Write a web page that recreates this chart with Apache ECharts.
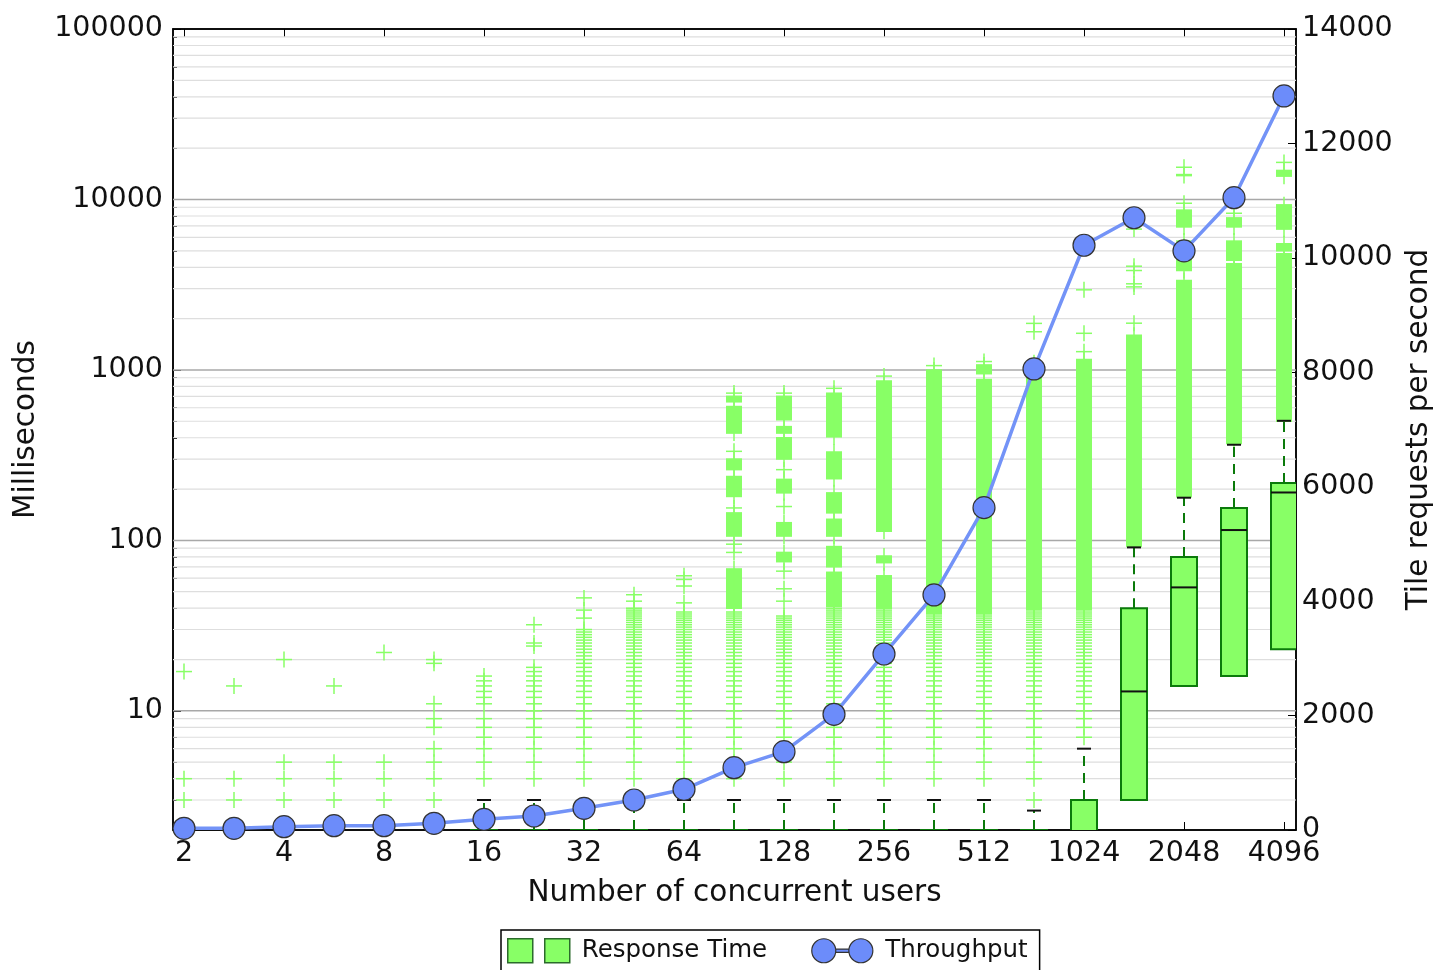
<!DOCTYPE html>
<html lang="en">
<head>
<meta charset="UTF-8">
<title>Response time and throughput</title>
<style>
    html, body { margin: 0; padding: 0; background: #fff; }
    #chart { width: 1433px; height: 970px; }
</style>
</head>
<body>
<div id="chart"></div>
<script src="https://cdn.jsdelivr.net/npm/echarts@6/dist/echarts.min.js"></script>
<script>
// 23 load levels, each step is x sqrt(2); only the powers of two get a label
var users = ['2', '2.8', '4', '5.7', '8', '11', '16', '23', '32', '45', '64', '91',
    '128', '181', '256', '362', '512', '724', '1024', '1448', '2048', '2896', '4096'];
var xTickLabels = ['2', '4', '8', '16', '32', '64', '128', '256', '512', '1024', '2048', '4096'];
var yTickLabels = [10, 100, 1000, 10000, 100000];

// tile requests per second (right axis)
var throughput = [30, 30, 58, 75, 75, 117, 187, 245, 379, 524, 711, 1089, 1369, 2022,
    3076, 4108, 5634, 8058, 10220, 10701, 10122, 11051, 12830];

// response time boxes, milliseconds
var whiskerLow = [1, 1, 1, 1, 1, 1, 1, 1, 1, 1, 1, 1, 1, 1, 1, 1, 1, 1, 1, 3, 14, 16, 23];
var q1 = [1, 1, 1, 1, 1, 1, 1, 1, 1, 1, 1, 1, 1, 1, 1, 1, 1, 1, 1, 3, 14, 16, 23];
var median = [1, 1, 1, 1, 1, 1, 1.5, 1.5, 1.5, 1.5, 1.5, 1.5, 1.5, 1.5, 1.5, 1.5, 1.5, 1.5, 1.5, 13, 53, 115, 191];
var q3 = [1.2, 1.2, 1.2, 1.2, 1.2, 1.2, 2, 2, 2, 2, 2, 2, 2, 2, 2, 2, 2, 2, 3, 40, 80, 155, 217];
var whiskerHigh = [2.2, 2.2, 2.2, 2.2, 2.2, 2.2, 3, 3, 3, 3, 3, 3, 3, 3, 3, 3, 3, 2.6, 6, 91, 178, 364, 503];

// single outliers per level (response times are whole milliseconds)
var outliers = [
    [3, 4, 17],
    [3, 4, 14],
    [3, 4, 5, 20],
    [3, 4, 5, 14],
    [3, 4, 5, 22],
    [3, 4, 5, 6, 8, 9, 11, 19, 20],
    [4, 5, 6, 7, 8, 9, 11, 12, 13, 14, 15, 16],
    [4, 5, 6, 7, 8, 9, 10, 11, 12, 13, 14, 15, 16, 17, 18, 24, 25, 32],
    [4, 5, 6, 7, 8, 9, 10, 11, 12, 13, 14, 15, 16, 17, 18, 19, 20, 21, 22, 23, 24, 25, 26, 27, 28, 29, 30, 35, 39, 46],
    [4, 5, 6, 7, 8, 9, 10, 11, 12, 13, 14, 15, 16, 17, 18, 19, 20, 21, 22, 23, 24, 25, 26, 27, 28, 29, 30, 31, 32, 33, 34, 35, 36, 37, 38, 39, 40, 44, 48],
    [4, 5, 6, 7, 8, 9, 10, 11, 12, 13, 14, 15, 16, 17, 18, 19, 20, 21, 22, 23, 24, 25, 26, 27, 28, 29, 30, 31, 32, 33, 34, 35, 36, 37, 38, 43, 54, 59, 62],
    [4, 5, 6, 7, 8, 9, 10, 11, 12, 13, 14, 15, 16, 17, 18, 19, 20, 21, 22, 23, 24, 25, 26, 27, 28, 29, 30, 31, 32, 33, 34, 35, 36, 37, 38, 85, 95, 155, 333, 731],
    [4, 5, 6, 7, 8, 9, 10, 11, 12, 13, 14, 15, 16, 17, 18, 19, 20, 21, 22, 23, 24, 25, 26, 27, 28, 29, 30, 31, 32, 33, 34, 35, 36, 44, 52, 66, 158, 260, 731],
    [4, 5, 6, 7, 8, 9, 10, 11, 12, 13, 14, 15, 16, 17, 18, 19, 20, 21, 22, 23, 24, 25, 26, 27, 28, 29, 30, 31, 32, 33, 34, 35, 36, 37, 38, 39, 40, 780],
    [4, 5, 6, 7, 8, 9, 10, 11, 12, 13, 14, 15, 16, 17, 18, 19, 20, 21, 22, 23, 24, 25, 26, 27, 28, 29, 30, 31, 32, 33, 34, 35, 36, 37, 38, 39, 920],
    [4, 5, 6, 7, 8, 9, 10, 11, 12, 13, 14, 15, 16, 17, 18, 19, 20, 21, 22, 23, 24, 25, 26, 27, 28, 29, 30, 31, 32, 33, 34, 35, 36, 1060],
    [4, 5, 6, 7, 8, 9, 10, 11, 12, 13, 14, 15, 16, 17, 18, 19, 20, 21, 22, 23, 24, 25, 26, 27, 28, 29, 30, 31, 32, 33, 34, 35, 36, 1120],
    [3, 4, 5, 6, 7, 8, 9, 10, 11, 12, 13, 14, 15, 16, 17, 18, 19, 20, 21, 22, 23, 24, 25, 26, 27, 28, 29, 30, 31, 32, 33, 34, 35, 36, 37, 38, 1675, 1875],
    [7, 8, 9, 10, 11, 12, 13, 14, 15, 16, 17, 18, 19, 20, 21, 22, 23, 24, 25, 26, 27, 28, 29, 30, 31, 32, 33, 34, 35, 36, 37, 38, 1280, 1640, 2950],
    [1880, 3070, 3200, 3830, 4060, 6700],
    [5700, 9500, 15450],
    [8300],
    [16500]
];

// ranges where the outlier crosses pile up into a solid column
var outlierBands = [
    [], [], [], [], [], [], [], [], [], [], [],
    [[40, 68], [106, 145], [181, 237], [260, 300], [426, 610], [650, 700]],
    [[75, 85], [106, 127], [190, 228], [300, 400], [426, 465], [510, 700]],
    [[41, 65], [70, 92], [106, 133], [145, 190], [230, 330], [405, 730]],
    [[40, 62], [74, 81], [113, 860]],
    [[37, 1000]],
    [[37, 880], [950, 1070]],
    [[39, 1100]],
    [[39, 1150]],
    [[92, 1600]],
    [[180, 3350], [3830, 4650], [6900, 8660], [13800, 14000]],
    [[370, 4200], [4400, 5700], [6900, 7800]],
    [[500, 4800], [5000, 5500], [6700, 9300], [13700, 14800]]
];

var X_MIN = -0.22, X_MAX = 22.24;
var font = 'DejaVu Sans';
var green = '#88ff66';
var darkGreen = '#0b7a0b';

var xTickPos = [];
for (var k = 0; k < xTickLabels.length; k++) xTickPos.push(k * 2);

// log grid lines 2..9 per decade
var gridRows = [];
var minorTicks = [];
for (var e = 0; e < 5; e++) {
    for (var m = 2; m <= 9; m++) {
        var v = m * Math.pow(10, e);
        if (v > 2 && v < 100000) { gridRows.push([0, v, 0]); minorTicks.push(v); }
    }
}
yTickLabels.forEach(function (v) { if (v < 100000) gridRows.push([0, v, 1]); });

var boxData = users.map(function (u, i) {
    return [i, whiskerLow[i], q1[i], median[i], q3[i], whiskerHigh[i]];
});
var outlierData = [];
outliers.forEach(function (list, i) { list.forEach(function (v) { outlierData.push([i, v]); }); });
var bandData = [];
outlierBands.forEach(function (list, i) { list.forEach(function (b) { bandData.push([i, b[0], b[1]]); }); });
var lineData = throughput.map(function (v, i) { return [i, v]; });

function renderGrid(params, api) {
    var a = api.coord([X_MIN, api.value(1)]);
    var b = api.coord([X_MAX, api.value(1)]);
    var major = api.value(2) === 1;
    return {
        type: 'line',
        shape: { x1: a[0], y1: a[1], x2: b[0], y2: b[1] },
        style: { stroke: major ? '#a8a8a8' : '#dedede', lineWidth: major ? 1.5 : 1.2 }
    };
}

function plus(x, y) {
    return [
        { type: 'line', shape: { x1: x - 8, y1: y, x2: x + 8, y2: y }, style: { stroke: green, lineWidth: 1.5 } },
        { type: 'line', shape: { x1: x, y1: y - 8, x2: x, y2: y + 8 }, style: { stroke: green, lineWidth: 1.5 } }
    ];
}

function renderOutlier(params, api) {
    var p = api.coord([api.value(0), api.value(1)]);
    return { type: 'group', children: plus(p[0], p[1]) };
}

function renderBand(params, api) {
    var i = api.value(0);
    var lo = api.coord([i, api.value(1)]);
    var hi = api.coord([i, api.value(2)]);
    return {
        type: 'group',
        children: [
            { type: 'rect', shape: { x: lo[0] - 8, y: hi[1] - 0.75, width: 16, height: lo[1] - hi[1] + 1.5 },
              style: { fill: green } },
            { type: 'line', shape: { x1: lo[0], y1: hi[1] - 8, x2: lo[0], y2: lo[1] + 8 },
              style: { stroke: green, lineWidth: 1.5 } }
        ]
    };
}

function renderBox(params, api) {
    var i = api.value(0);
    var pLow = api.coord([i, api.value(1)]);
    var pQ1 = api.coord([i, api.value(2)]);
    var pMed = api.coord([i, api.value(3)]);
    var pQ3 = api.coord([i, api.value(4)]);
    var pHigh = api.coord([i, api.value(5)]);
    var x = pQ1[0], hw = 13, cw = 7;
    var dash = { stroke: darkGreen, lineWidth: 2, lineDash: [10, 7] };
    var cap = { stroke: '#111', lineWidth: 2 };
    var kids = [
        { type: 'line', shape: { x1: x, y1: pQ3[1], x2: x, y2: pHigh[1] }, style: dash },
        { type: 'line', shape: { x1: x - cw, y1: pHigh[1], x2: x + cw, y2: pHigh[1] }, style: cap }
    ];
    if (api.value(1) < api.value(2)) {
        kids.push({ type: 'line', shape: { x1: x, y1: pQ1[1], x2: x, y2: pLow[1] }, style: dash });
        kids.push({ type: 'line', shape: { x1: x - cw, y1: pLow[1], x2: x + cw, y2: pLow[1] }, style: cap });
    }
    kids.push({ type: 'rect', shape: { x: x - hw, y: pQ3[1], width: hw * 2, height: pQ1[1] - pQ3[1] },
        style: { fill: green, stroke: darkGreen, lineWidth: 2 } });
    kids.push({ type: 'line', shape: { x1: x - hw, y1: pMed[1], x2: x + hw, y2: pMed[1] }, style: cap });
    return { type: 'group', children: kids };
}

var axisText = { fontFamily: font, fontSize: 28.5, color: '#111' };
var nameText = { fontFamily: font, fontSize: 29.5, color: '#111' };
var axisLine = { show: true, onZero: false, lineStyle: { color: '#000', width: 1.5 } };

var chart = echarts.init(document.getElementById('chart'));
chart.setOption({
    animation: false,
    backgroundColor: '#fff',
    textStyle: { fontFamily: font },
    grid: {
        left: 173, right: 137, top: 29, bottom: 140,
        outerBoundsMode: 'none', containLabel: false,
        show: true, borderColor: '#000', borderWidth: 1.5
    },
    legend: {
        left: 501, top: 930,
        borderColor: '#000', borderWidth: 1.5,
        padding: [8, 12, 14, 6],
        itemGap: 44, itemWidth: 62, itemHeight: 24,
        textStyle: { fontFamily: font, fontSize: 24.5, color: '#111', padding: [0, 0, 0, 7] },
        data: [
            { name: 'Response Time', icon: 'path://M0,0H25V24H0Z M37,0H62V24H37Z',
              itemStyle: { color: green, borderColor: '#2b6b2b', borderWidth: 1.5 } },
            { name: 'Throughput',
              icon: 'path://M1,12A11,11 0 1,0 23,12A11,11 0 1,0 1,12Z M23,10.5H35V13.5H23Z M35,12A11,11 0 1,0 57,12A11,11 0 1,0 35,12Z',
              itemStyle: { color: '#6c8cfa', borderColor: '#333', borderWidth: 1.2 } }
        ]
    },
    xAxis: [
        {
            type: 'value', position: 'bottom', min: X_MIN, max: X_MAX,
            name: 'Number of concurrent users', nameLocation: 'middle', nameGap: 48,
            nameTextStyle: nameText,
            axisLine: axisLine,
            axisTick: { show: true, inside: true, length: 8, customValues: xTickPos, lineStyle: { color: '#000' } },
            axisLabel: Object.assign({ customValues: xTickPos, margin: 9,
                formatter: function (v) { return xTickLabels[Math.round(v / 2)]; } }, axisText),
            splitLine: { show: false }
        },
        {
            type: 'value', position: 'top', min: X_MIN, max: X_MAX,
            axisLine: axisLine,
            axisTick: { show: true, inside: true, length: 8, customValues: xTickPos, lineStyle: { color: '#000' } },
            axisLabel: { show: false },
            splitLine: { show: false }
        }
    ],
    yAxis: [
        {
            type: 'log', logBase: 10, min: 2, max: 100000, position: 'left',
            name: 'Milliseconds', nameLocation: 'middle', nameGap: 132,
            nameTextStyle: nameText,
            axisLine: axisLine,
            axisTick: { show: true, inside: true, length: 8, customValues: yTickLabels, lineStyle: { color: '#000' } },
            axisLabel: Object.assign({ customValues: yTickLabels, margin: 10,
                formatter: function (v) { return String(Math.round(v)); } }, axisText),
            splitLine: { show: false }
        },
        {
            type: 'value', min: 0, max: 14000, interval: 2000, position: 'right',
            name: 'Tile requests per second', nameLocation: 'middle', nameGap: 108,
            nameTextStyle: nameText,
            axisLine: axisLine,
            axisTick: { show: true, inside: true, length: 8, lineStyle: { color: '#000' } },
            axisLabel: Object.assign({ margin: 6, formatter: function (v) { return String(v); } }, axisText),
            splitLine: { show: false }
        },
        {
            type: 'log', logBase: 10, min: 2, max: 100000, position: 'left',
            axisLine: { show: false, onZero: false },
            axisTick: { show: true, inside: true, length: 4, customValues: minorTicks, lineStyle: { color: '#000' } },
            axisLabel: { show: false },
            splitLine: { show: false }
        }
    ],
    series: [
        {
            type: 'custom', xAxisIndex: 0, yAxisIndex: 0, z: 1, silent: true, clip: true,
            encode: { x: 0, y: 1 },
            renderItem: renderGrid, data: gridRows
        },
        {
            name: 'Response Time', type: 'custom', xAxisIndex: 0, yAxisIndex: 0, z: 2, clip: true,
            encode: { x: 0, y: [1, 2] },
            renderItem: renderBand, data: bandData
        },
        {
            name: 'Response Time', type: 'custom', xAxisIndex: 0, yAxisIndex: 0, z: 2, clip: true,
            encode: { x: 0, y: 1 },
            renderItem: renderOutlier, data: outlierData
        },
        {
            name: 'Response Time', type: 'custom', xAxisIndex: 0, yAxisIndex: 0, z: 3, clip: true,
            encode: { x: 0, y: [1, 2, 3, 4, 5] },
            renderItem: renderBox, data: boxData
        },
        {
            name: 'Throughput', type: 'line', xAxisIndex: 0, yAxisIndex: 1, z: 5,
            symbol: 'circle', symbolSize: 22,
            lineStyle: { color: '#7393f7', width: 3.5 },
            itemStyle: { color: '#6c8cfa', borderColor: '#333', borderWidth: 1.2 },
            data: lineData
        }
    ]
});
</script>
</body>
</html>
